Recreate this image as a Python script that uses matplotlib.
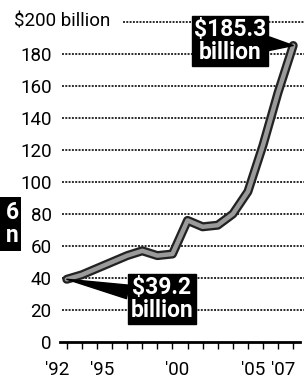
import matplotlib
matplotlib.use("Agg")
import matplotlib.pyplot as plt
from matplotlib.transforms import ScaledTranslation
from matplotlib.patches import Rectangle

years = [1992, 1993, 1994, 1995, 1996, 1997, 1998, 1999, 2000, 2001, 2002, 2003, 2004, 2005, 2006, 2007]
values = [39.2, 42, 46, 50, 54, 57, 54, 55, 76, 72, 73, 80, 94, 123, 156, 185.3]
y_ticks = [0, 20, 40, 60, 80, 100, 120, 140, 160, 180]
y_top = 200
y_top_label = "$200 billion"
x_label_years = {1992: "'92", 1995: "'95", 2000: "'00", 2005: "'05", 2007: "'07"}
start_label = "$39.2\nbillion"
end_label = "$185.3\nbillion"
edge_label = "6\nn"

W, H = 305, 379
DPI = 100
fig = plt.figure(figsize=(W / DPI, H / DPI), dpi=DPI)
fig.patch.set_facecolor("white")

def fx(px):
    return px / W

def fy(py):
    return 1 - py / H

ax_l, ax_r, ax_t, ax_b = 60, 300, 22, 342
ax = fig.add_axes([fx(ax_l), fy(ax_b), fx(ax_r - ax_l), (ax_b - ax_t) / H])
ax.set_facecolor("none")
ax.set_xlim(1991.55, 2007.45)
ax.set_ylim(0, y_top)

for s in ["top", "right", "left"]:
    ax.spines[s].set_visible(False)
ax.spines["bottom"].set_linewidth(2.0)
ax.spines["bottom"].set_color("black")

lab_font = ["Roboto", "DejaVu Sans"]
box_font = ["Roboto", "DejaVu Sans"]

# grid lines (dotted)
grid_kw = dict(color="#2a2a2a", lw=1.4, ls=(0, (1, 0.7)), clip_on=False, zorder=1)
x0f = (62 - ax_l) / (ax_r - ax_l)
x1f = (304 - ax_l) / (ax_r - ax_l)
for v in y_ticks[1:]:
    ax.axhline(v, xmin=x0f, xmax=x1f, **grid_kw)
ax.axhline(y_top, xmin=(123 - ax_l) / (ax_r - ax_l), xmax=x1f, **grid_kw)

# y tick labels
ax.set_yticks(y_ticks)
ax.set_yticklabels([str(v) for v in y_ticks], fontsize=13.5, family=lab_font)
ax.tick_params(axis="y", length=0, pad=6)
fig.text(fx(14), fy(ax_t), y_top_label, ha="left", va="center",
         fontsize=13.5, family=lab_font)

# x ticks
ax.set_xticks(years)
ax.set_xticklabels([x_label_years.get(y, "") for y in years],
                   fontsize=13.5, family=lab_font)
ax.tick_params(axis="x", length=5, width=1.0, pad=9, direction="out")
off = ScaledTranslation(-10 / DPI, 0, fig.dpi_scale_trans)
for lab in ax.get_xticklabels():
    lab.set_transform(lab.get_transform() + off)

# line
ax.plot(years, values, color="#222222", lw=6.5, solid_capstyle="round",
        solid_joinstyle="round", zorder=3, clip_on=False)
ax.plot(years, values, color="#9a9a9a", lw=3.2, solid_capstyle="round",
        solid_joinstyle="round", zorder=4, clip_on=False)

box_kw = dict(boxstyle="square,pad=0.1", fc="black", ec="black")
arrow_kw = dict(arrowstyle="wedge,tail_width=0.6,shrink_factor=0.5", fc="black",
                ec="black", shrinkA=0, shrinkB=0)

ax.annotate(end_label, xy=(years[-1], values[-1]), xytext=(fx(230), fy(41)),
            textcoords="figure fraction", ha="center", va="center",
            multialignment="center", color="white", fontsize=16.5, fontweight="bold",
            family=box_font, linespacing=1.0, bbox=box_kw, arrowprops=arrow_kw,
            zorder=6)
ax.annotate(start_label, xy=(years[0], values[0]), xytext=(fx(162), fy(299)),
            textcoords="figure fraction", ha="center", va="center",
            multialignment="center", color="white", fontsize=16.5, fontweight="bold",
            family=box_font, linespacing=1.0, bbox=box_kw, arrowprops=arrow_kw,
            zorder=6)

# partial label box at left edge (only its last characters are visible)
fig.patches.append(Rectangle((0, fy(251)), fx(21), (251 - 197) / H,
                             transform=fig.transFigure, fc="black", ec="none"))
fig.text(fx(19), fy(224), edge_label, ha="right", va="center", multialignment="right",
         color="white", fontsize=16.5, fontweight="bold", family=box_font,
         linespacing=1.0)

fig.savefig("out.png", dpi=DPI)
